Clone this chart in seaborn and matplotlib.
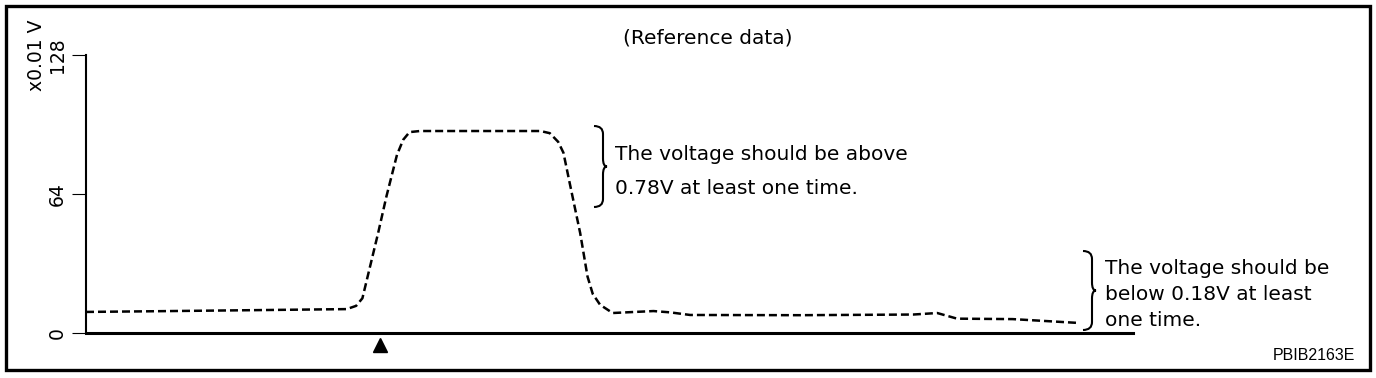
import numpy as np
import pandas as pd
import seaborn as sns
import matplotlib.pyplot as plt
from matplotlib.path import Path
from matplotlib.patches import PathPatch, Rectangle
from matplotlib.transforms import Affine2D

#______Data (time in % of window, voltage in x0.01 V)______
time = [0, 6.1, 15.7, 24.9, 25.8, 26.4, 27.1, 27.9, 28.7, 29.7, 30.3, 30.9, 31.9,
        43.4, 44.3, 45.1, 45.6, 46.2, 47.2, 47.9, 48.4, 49.1, 50.3, 52.0, 54.2,
        55.8, 57.7, 68.2, 79.0, 81.3, 83.2, 88.5, 94.9]
voltage = [9.7, 10.0, 10.5, 11.0, 12.5, 16.0, 30.0, 46.0, 63.0, 82.0, 89.0, 92.5, 93.0,
           93.0, 92.0, 88.0, 83.0, 69.0, 46.0, 26.0, 18.0, 13.0, 9.2, 9.6, 10.1,
           9.5, 8.3, 8.2, 8.5, 9.2, 6.6, 6.4, 4.6]
event_time = [28.1]
y_ticks = [0, 64, 128]
y_tick_labels = ["0", "64", "128"]
note_high = ["The voltage should be above", "0.78V at least one time."]
note_low = ["The voltage should be", "below 0.18V at least", "one time."]

df = pd.DataFrame({"time": time, "voltage": voltage})

W, H = 1376, 378
sns.set_style("white")
plt.rcParams['font.family'] = ['DejaVu Sans']
plt.rcParams['text.color'] = 'black'
plt.rcParams['ytick.color'] = 'black'
plt.rcParams['ytick.labelcolor'] = 'black'

fig = plt.figure(figsize=(W / 100, H / 100), dpi=100)
ax = fig.add_axes([86 / W, 1 - 333 / H, (1133 - 86) / W, (333 - 55) / H])

#______Signal trace________
sns.lineplot(data=df, x="time", y="voltage", ax=ax, color="black",
             linewidth=1.8, linestyle=(0, (3.2, 1.6)), estimator=None)

ax.plot(event_time, [-5.6], marker="^", color="black", markersize=10,
        linestyle="none", clip_on=False)

ax.set_xlim(0, 100)
ax.set_ylim(0, 128)
ax.set_xticks([])
ax.set_yticks(y_ticks)
ax.set_yticklabels(y_tick_labels, rotation=90, va="center", fontsize=13.5,
                   color="black")
ax.tick_params(axis="y", direction="out", length=10, width=0.8, pad=4, left=True,
               color="black")
ax.set_xlabel("")
ax.set_ylabel("")
for side in ["top", "right"]:
    ax.spines[side].set_visible(False)
ax.spines["left"].set_linewidth(1.5)
ax.spines["bottom"].set_linewidth(2.2)
ax.spines["left"].set_color("black")
ax.spines["bottom"].set_color("black")

#______Annotations in pixel coordinates (origin top-left)______
px = Affine2D().scale(1 / W, -1 / H).translate(0, 1) + fig.transFigure


def brace(x_left, x_line, tip, y_top, y_bot, r=8):
    ym = (y_top + y_bot) / 2
    verts = [(x_left, y_top), (x_line, y_top), (x_line, y_top + r),
             (x_line, ym - r), (x_line, ym), (x_line + tip, ym),
             (x_line, ym), (x_line, ym + r),
             (x_line, y_bot - r), (x_line, y_bot), (x_left, y_bot)]
    codes = [Path.MOVETO, Path.CURVE3, Path.CURVE3,
             Path.LINETO, Path.CURVE3, Path.CURVE3,
             Path.CURVE3, Path.CURVE3,
             Path.LINETO, Path.CURVE3, Path.CURVE3]
    fig.add_artist(PathPatch(Path(verts, codes), transform=px, fill=False,
                             lw=1.5, color="black"))


brace(594, 603, 4, 126, 207)
brace(1083, 1092, 4, 251, 330)

for i, line in enumerate(note_high):
    fig.text(615, 155 + 33 * i, line, transform=px, fontsize=14.5,
             va="center", ha="left", color="black")
for i, line in enumerate(note_low):
    fig.text(1105, 268 + 26.5 * i, line, transform=px, fontsize=14.5,
             va="center", ha="left", color="black")

fig.text(708, 38, "(Reference data)", transform=px, fontsize=14.5,
         ha="center", va="center", color="black")
fig.text(36, 55, "x0.01 V", transform=px, fontsize=13.5, rotation=90,
         ha="center", va="center", color="black")
fig.text(1355, 356, "PBIB2163E", transform=px, fontsize=11.5, ha="right",
         va="center", family="Liberation Sans", color="black")

#______Outer frame______
fig.add_artist(Rectangle((6, 6), 1364, 364, transform=px, fill=False,
                         lw=2.4, color="black"))

fig.savefig("out.png", dpi=100)
